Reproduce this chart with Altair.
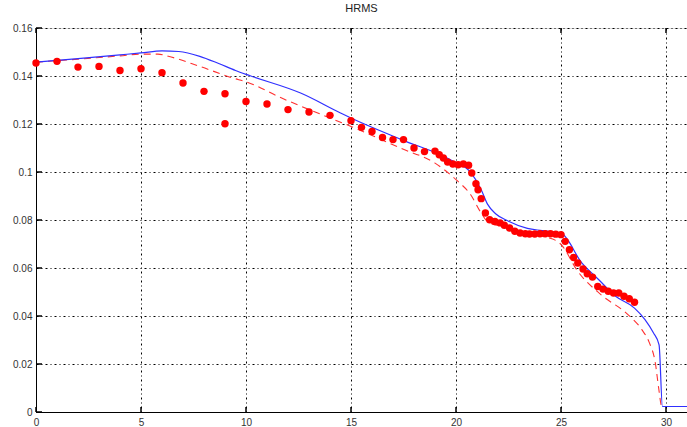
import altair as alt
import pandas as pd

# ---- data ----
dot_x = [0, 1, 2, 3, 4, 5, 6, 7, 8, 9, 9, 10, 11, 12, 13, 14, 15, 15.5, 16, 16.5, 17, 17.5, 18, 18.5, 19,
         19.2, 19.4, 19.6, 19.85, 20.1, 20.35, 20.6, 20.75, 20.95, 21.05, 21.2, 21.4, 21.6, 21.85, 22.1,
         22.3, 22.55, 22.8, 23.05, 23.3, 23.5, 23.75, 24.0, 24.25, 24.5, 24.75, 25.0, 25.2, 25.4, 25.6,
         25.8, 26.05, 26.25, 26.5, 26.75, 27.0, 27.25, 27.5, 27.75, 28.0, 28.25, 28.5]
dot_y = [0.1454, 0.1461, 0.1437, 0.1440, 0.1423, 0.1430, 0.1414, 0.1371, 0.1336, 0.1326, 0.1201, 0.1294,
         0.1283, 0.1260, 0.1250, 0.1236, 0.1214, 0.1186, 0.1169, 0.1144, 0.1135, 0.1135, 0.1100, 0.1085,
         0.1087, 0.1072, 0.1058, 0.1042, 0.1033, 0.1030, 0.1033, 0.1028, 0.0996, 0.0951, 0.0926, 0.0889,
         0.0829, 0.0801, 0.0794, 0.0788, 0.0778, 0.0767, 0.0753, 0.0746, 0.0743, 0.0742, 0.0742, 0.0743,
         0.0743, 0.0743, 0.0741, 0.0739, 0.0711, 0.0676, 0.0644, 0.0621, 0.0596, 0.0576, 0.0562, 0.0523,
         0.0512, 0.0503, 0.0496, 0.0496, 0.0482, 0.0472, 0.0457]

blue_x = [0, 2, 4, 5, 6, 6.8, 7.8, 8.7, 9.5, 10.2, 12.6, 14.5, 15, 17.4, 19.8, 20.7, 21.2, 21.5, 21.9, 22.5,
          23.4, 24.1, 25.0, 26.0, 26.8, 27.6, 28.5, 29.0, 29.4, 29.67, 29.83, 31]
blue_y = [0.1458, 0.1472, 0.1488, 0.1496, 0.1505, 0.1502, 0.1482, 0.1452, 0.1423, 0.1401, 0.1329, 0.1246,
          0.1225, 0.1135, 0.1048, 0.0998, 0.0926, 0.0866, 0.0825, 0.0795, 0.0765, 0.0756, 0.0745, 0.0620,
          0.0551, 0.0482, 0.0433, 0.0385, 0.0330, 0.0280, 0.0023, 0.0023]

red_x = [0, 2, 4, 5, 5.8, 6.3, 7.8, 9.4, 10, 11.7, 14.2, 15, 17.4, 19, 20, 20.7, 21.2, 21.5, 22.2, 23.2,
         24.2, 24.8, 25.0, 25.8, 26.9, 28.2, 28.85, 29.2, 29.5, 29.65, 29.8, 31]
red_y = [0.1458, 0.1470, 0.1484, 0.1491, 0.1491, 0.1482, 0.1440, 0.1391, 0.1376, 0.1308, 0.1218, 0.1190,
         0.1098, 0.1037, 0.0968, 0.0905, 0.0829, 0.0794, 0.0772, 0.0748, 0.0730, 0.0712, 0.0698, 0.0586,
         0.0489, 0.0405, 0.0343, 0.0290, 0.0200, 0.0100, 0.0023, 0.0023]

x_ticks = [0, 5, 10, 15, 20, 25, 30]
y_ticks = [0, 0.02, 0.04, 0.06, 0.08, 0.1, 0.12, 0.14, 0.16]
title_text = "HRMS"

W, H = 651, 384
FONT = "Liberation Sans"

dots = pd.DataFrame({"x": dot_x, "y": dot_y})
blue = pd.DataFrame({"x": blue_x, "y": blue_y})
red = pd.DataFrame({"x": red_x, "y": red_y})
xt = pd.DataFrame({"x": x_ticks})
yt = pd.DataFrame({"y": y_ticks})

xs = alt.Scale(domain=[0, 31], nice=False, zero=False)
ys = alt.Scale(domain=[0, 0.16], nice=False, zero=False)

grid_dash = [2, 3, 1, 3]

x_axis = alt.Axis(values=x_ticks, grid=True, gridColor="#000000", gridDash=grid_dash, gridWidth=1,
                  gridOpacity=1, tickSize=0, labelPadding=5, labelFont=FONT, labelFontSize=10,
                  labelColor="#333333", domainColor="#000000", domainWidth=1, title=None,
                  labelFlush=False, format="~g")
y_axis = alt.Axis(values=y_ticks, grid=True, gridColor="#000000", gridDash=grid_dash, gridWidth=1,
                  gridOpacity=1, tickSize=0, labelPadding=4, labelFont=FONT, labelFontSize=10,
                  labelColor="#333333", domainColor="#000000", domainWidth=1, title=None,
                  format="~g")

base_grid = alt.Chart(dots).mark_point(opacity=0).encode(
    x=alt.X("x:Q", scale=xs, axis=x_axis),
    y=alt.Y("y:Q", scale=ys, axis=y_axis),
)

red_line = alt.Chart(red).mark_line(color="#ff3030", strokeWidth=1.1, strokeDash=[7, 5],
                                    interpolate="monotone").encode(
    x=alt.X("x:Q", scale=xs), y=alt.Y("y:Q", scale=ys), order="x:Q")

blue_line = alt.Chart(blue).mark_line(color="#3030ff", strokeWidth=1.2,
                                      interpolate="monotone").encode(
    x=alt.X("x:Q", scale=xs), y=alt.Y("y:Q", scale=ys), order="x:Q")

dot_layer = alt.Chart(dots).mark_circle(color="#ff0000", size=55, opacity=1).encode(
    x=alt.X("x:Q", scale=xs), y=alt.Y("y:Q", scale=ys))

xtick_bottom = alt.Chart(xt).mark_rule(color="#000000", strokeWidth=1.5).encode(
    x=alt.X("x:Q", scale=xs), y=alt.value(H), y2=alt.value(H - 5))
xtick_top = alt.Chart(xt).mark_rule(color="#000000", strokeWidth=1.5).encode(
    x=alt.X("x:Q", scale=xs), y=alt.value(0), y2=alt.value(5))
ytick_left = alt.Chart(yt).mark_rule(color="#000000", strokeWidth=1.5).encode(
    y=alt.Y("y:Q", scale=ys), x=alt.value(0), x2=alt.value(6))

chart = alt.layer(
    base_grid, xtick_bottom, xtick_top, ytick_left, red_line, blue_line, dot_layer
).properties(
    width=W, height=H,
    title=alt.TitleParams(title_text, font=FONT, fontSize=11, fontWeight="normal",
                          color="#222222", anchor="middle", offset=9),
    padding={"left": 36, "top": 28, "right": 0, "bottom": 15},
    autosize=alt.AutoSizeParams(type="none"),
).configure_view(
    stroke="#000000", strokeWidth=1
).configure(background="#ffffff")

chart.save("out.html", embed_options={"renderer": "svg", "actions": False})
